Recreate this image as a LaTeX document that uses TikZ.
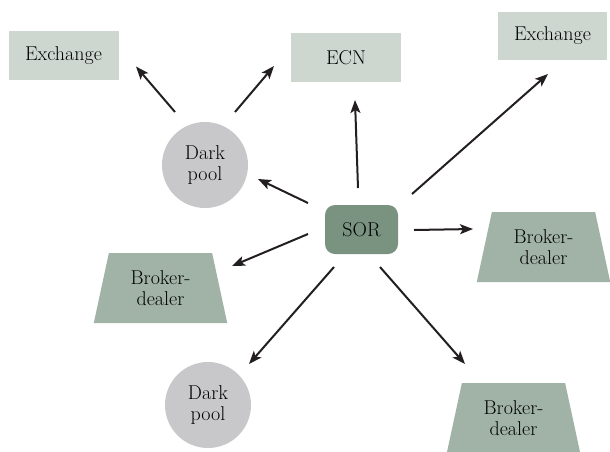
\documentclass[tikz,border=0pt]{standalone}
\usepackage{fontspec}
\usetikzlibrary{shapes.geometric,arrows.meta,calc}
\definecolor{boxfill}{HTML}{CDD7CF}
\definecolor{trapfill}{HTML}{A1B3A6}
\definecolor{sorfill}{HTML}{7A9381}
\definecolor{poolfill}{HTML}{C8C8CA}
\definecolor{arrowcol}{HTML}{231F20}
\tikzset{
  txt/.style={font=\fontsize{20}{21}\selectfont, align=center, text=black, inner sep=0pt},
  venue/.style={txt, fill=boxfill, minimum width=110pt, minimum height=49pt},
  pool/.style={txt, circle, fill=poolfill, minimum size=86pt},
  broker/.style={txt, trapezium, trapezium angle=76, trapezium stretches,
     fill=trapfill, minimum width=134pt, minimum height=70pt},
  router/.style={txt, rounded corners=10pt, fill=sorfill, minimum width=73pt, minimum height=49pt},
  arr/.style={draw=arrowcol, line width=2pt, -{Stealth[length=13pt,width=10pt,inset=3pt]}}
}
\begin{document}
\begin{tikzpicture}[x=1pt,y=-1pt]
\useasboundingbox (0,0) rectangle (610,451);
\node[venue] (ex1) at (63.5,55.5) {Exchange};
\node[venue] (ecn) at (346,57.5) {ECN};
\node[venue, minimum width=109pt, minimum height=48pt] (ex2) at (552.5,36) {Exchange};
\node[pool] (dp1) at (205,165) {Dark\\pool};
\node[router] (sor) at (361.5,229.5) {SOR};
\node[broker] (bd1) at (543.5,247) {Broker-\\dealer};
\node[broker] (bd2) at (160.5,288) {Broker-\\dealer};
\node[pool] (dp2) at (208,405) {Dark\\pool};
\node[broker] (bd3) at (513.5,418) {Broker-\\dealer};

\draw[arr] ($(dp1)+(-30,-53)$) -- ($(ex1)+(72.5,11)$);
\draw[arr] ($(dp1)+(30,-53)$) -- ($(ecn)+(-72,8.5)$);
\draw[arr] ($(sor)+(-53.5,-26.5)$) -- ($(dp1)+(53,14)$);
\draw[arr] ($(sor)+(-3.5,-41.5)$) -- ($(ecn)+(9,42.5)$);
\draw[arr] ($(sor)+(50.5,-35.5)$) -- ($(ex2)+(-4.5,38)$);
\draw[arr] ($(sor)+(52.5,0.5)$) -- ($(bd1)+(-70.5,-18)$);
\draw[arr] ($(sor)+(-53.5,4.5)$) -- ($(bd2)+(71.5,-22)$);
\draw[arr] ($(sor)+(-27.5,37.5)$) -- ($(dp2)+(41,-41)$);
\draw[arr] ($(sor)+(18.5,37.5)$) -- ($(bd3)+(-48.5,-54)$);
\end{tikzpicture}
\end{document}
